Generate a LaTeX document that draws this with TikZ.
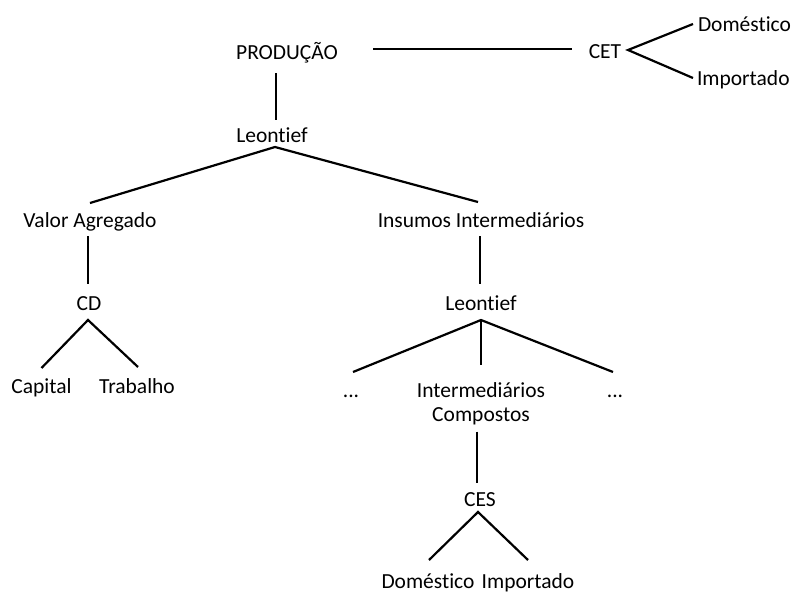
\documentclass[tikz,border=0pt]{standalone}
\usepackage{fontspec}
\setmainfont{Carlito}[Ligatures={NoCommon}]
\usetikzlibrary{calc}
\begin{document}
\begin{tikzpicture}[x=1pt,y=-1pt,
  lbl/.style={inner sep=0pt, outer sep=0pt, anchor=base, font=\fontsize{21.5}{25}\selectfont},
  lblw/.style={lbl, anchor=base west},
  conn/.style={line width=2.2pt, line cap=butt}]
\useasboundingbox (0,0) rectangle (792,592);
% nodes (positions = baselines)
\node[lbl] (prod) at (287,59) {PRODUÇÃO};
\node[lbl] (cet) at (605,58.5) {CET};
\node[lblw] (dom1) at (698,31) {Doméstico};
\node[lblw] (imp1) at (697,85.5) {Importado};
\node[lbl] (leo1) at (272,142) {Leontief};
\node[lbl] (va) at (90,227) {Valor Agregado};
\node[lbl] (ii) at (481,227) {Insumos Intermediários};
\node[lbl] (cd) at (89,310) {CD};
\node[lbl] (cap) at (41.5,393.5) {Capital};
\node[lbl] (trab) at (137,393.5) {Trabalho};
\node[lbl] (leo2) at (481,310.5) {Leontief};
\node[lbl] (dots1) at (351,397) {...};
\node[lbl] (int) at (481,397) {Intermediários};
\node[lbl] (dots2) at (615,397) {...};
\node[lbl] (comp) at (481,421.5) {Compostos};
\node[lbl] (ces) at (480,506) {CES};
\node[lbl] (dom2) at (428,588) {Doméstico};
\node[lbl] (imp2) at (528,588) {Importado};
% connectors
\draw[conn] ($(prod.base)+(86,-10)$) -- ($(cet.base)+(-33,-9.5)$);
\draw[conn] ($(dom1.base west)+(-5,-7)$) -- ($(cet.base)+(23,-8.5)$) -- ($(imp1.base west)+(-4,-7.5)$);
\draw[conn] ($(prod.base)+(-11,14)$) -- ($(leo1.base)+(4,-22)$);
\draw[conn] ($(va.base)+(0,-24)$) -- ($(leo1.base)+(3,5)$) -- ($(ii.base)+(-3,-25)$);
\draw[conn] ($(va.base)+(-2,9)$) -- ($(cd.base)+(-1,-26)$);
\draw[conn] ($(cap.base)+(0,-25.5)$) -- ($(cd.base)+(-1,10)$) -- ($(trab.base)+(1,-26.5)$);
\draw[conn] ($(ii.base)+(-1,9)$) -- ($(leo2.base)+(-1,-26.5)$);
\draw[conn] ($(dots1.base)+(2,-25)$) -- ($(leo2.base)+(0,9.5)$) -- ($(dots2.base)+(-2,-25)$);
\draw[conn] ($(leo2.base)+(0,9.5)$) -- ($(int.base)+(0,-32)$);
\draw[conn] ($(comp.base)+(-4,10)$) -- ($(ces.base)+(-3,-23)$);
\draw[conn] ($(dom2.base)+(1,-28)$) -- ($(ces.base)+(-2,6)$) -- ($(imp2.base)+(0,-28)$);
\end{tikzpicture}
\end{document}
